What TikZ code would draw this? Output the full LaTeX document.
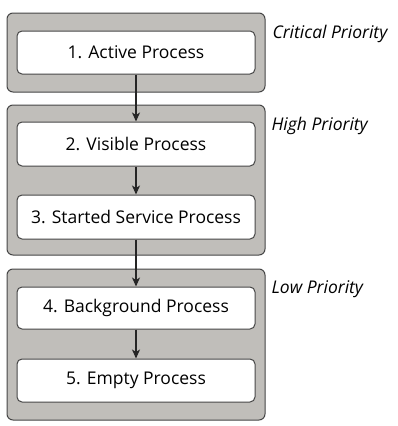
\documentclass[tikz,border=0pt]{standalone}
\usepackage{fontspec}
\setmainfont{Open Sans}
\usetikzlibrary{arrows.meta,positioning}
\definecolor{grpgray}{RGB}{192,190,186}
\definecolor{edgegray}{RGB}{70,70,70}
\tikzset{
  group/.style={draw=edgegray,fill=grpgray,line width=1pt,rounded corners=6pt,
    minimum width=258pt},
  proc/.style={draw=edgegray,fill=white,line width=1pt,rounded corners=5pt,
    minimum width=238pt,font=\fontsize{17.5}{20}\selectfont},
  prio/.style={anchor=west,font=\fontsize{17.5}{20}\selectfont\itshape},
  flow/.style={-{Stealth[length=9pt,width=8pt,inset=2.5pt]},line width=1.4pt,draw=black!85}
}

\begin{document}
\begin{tikzpicture}[x=1pt,y=-1pt]
    \useasboundingbox (0,0) rectangle (398,426);
    \node[group,minimum height=79pt]  (crit) at (136,52.5) {};
    \node[group,minimum height=150pt] (high) at (136,180) {};
    \node[group,minimum height=151pt] (low)  at (136,344.5) {};
    \node[proc,minimum height=43pt] (p1) at (136,52.5) {1. Active Process};
    \node[proc,minimum height=44pt] (p2) at (136,144) {2. Visible Process};
    \node[proc,minimum height=44pt] (p3) at (136,217) {3. Started Service Process};
    \node[proc,minimum height=42pt] (p4) at (136,308) {4. Background Process};
    \node[proc,minimum height=43pt] (p5) at (136,380.5) {5. Empty Process};
    \node[prio] (lcrit) at (269,34)  {Critical Priority};
    \node[prio] (lhigh) at (268,126) {High Priority};
    \node[prio] (llow)  at (268,289) {Low Priority};
    \draw[flow] (p1) -- (p2);
    \draw[flow] (p2) -- (p3);
    \draw[flow] (p3) -- (p4);
    \draw[flow] (p4) -- (p5);
  \end{tikzpicture}
\end{document}
